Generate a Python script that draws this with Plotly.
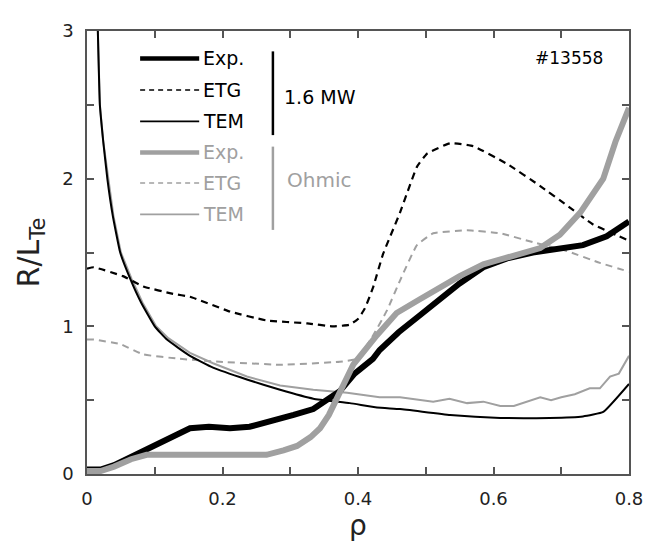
import plotly.graph_objects as go

# ---- data ----
exp_hi_x = [0.0, 0.02, 0.04, 0.063, 0.09, 0.12, 0.152, 0.18, 0.211, 0.24, 0.275, 0.305, 0.334, 0.355, 0.373, 0.395, 0.422, 0.432, 0.46, 0.49, 0.511, 0.55, 0.585, 0.62, 0.658, 0.70, 0.732, 0.767, 0.8]
exp_hi_y = [0.03, 0.03, 0.06, 0.11, 0.17, 0.24, 0.31, 0.32, 0.31, 0.32, 0.36, 0.40, 0.44, 0.50, 0.56, 0.68, 0.78, 0.84, 0.96, 1.07, 1.15, 1.29, 1.40, 1.46, 1.50, 1.53, 1.55, 1.61, 1.71]

etg_hi_x = [0.0, 0.01, 0.053, 0.083, 0.127, 0.152, 0.211, 0.265, 0.325, 0.363, 0.387, 0.400, 0.410, 0.422, 0.437, 0.462, 0.487, 0.502, 0.536, 0.570, 0.62, 0.669, 0.708, 0.747, 0.8]
etg_hi_y = [1.39, 1.40, 1.34, 1.27, 1.22, 1.20, 1.10, 1.04, 1.02, 1.00, 1.01, 1.05, 1.12, 1.26, 1.49, 1.77, 2.08, 2.17, 2.24, 2.22, 2.10, 1.95, 1.82, 1.69, 1.58]

tem_hi_x = [0.016, 0.019, 0.024, 0.030, 0.038, 0.049, 0.064, 0.08, 0.10, 0.118, 0.152, 0.186, 0.236, 0.285, 0.334, 0.388, 0.428, 0.462, 0.536, 0.61, 0.683, 0.732, 0.762, 0.8]
tem_hi_y = [3.0, 2.5, 2.25, 2.0, 1.75, 1.5, 1.32, 1.16, 1.0, 0.91, 0.80, 0.72, 0.64, 0.57, 0.51, 0.48, 0.45, 0.44, 0.40, 0.38, 0.38, 0.39, 0.42, 0.61]

exp_oh_x = [0.0, 0.02, 0.04, 0.065, 0.088, 0.12, 0.17, 0.22, 0.265, 0.29, 0.31, 0.33, 0.344, 0.357, 0.369, 0.393, 0.428, 0.457, 0.49, 0.511, 0.55, 0.585, 0.63, 0.669, 0.698, 0.728, 0.762, 0.78, 0.8]
exp_oh_y = [0.02, 0.02, 0.05, 0.10, 0.13, 0.13, 0.13, 0.13, 0.13, 0.16, 0.19, 0.25, 0.31, 0.40, 0.51, 0.74, 0.94, 1.09, 1.18, 1.24, 1.34, 1.42, 1.48, 1.53, 1.62, 1.77, 2.00, 2.25, 2.48]

etg_oh_x = [0.0, 0.01, 0.049, 0.083, 0.137, 0.196, 0.285, 0.373, 0.398, 0.42, 0.443, 0.462, 0.487, 0.511, 0.561, 0.61, 0.658, 0.708, 0.757, 0.8]
etg_oh_y = [0.91, 0.91, 0.88, 0.81, 0.78, 0.76, 0.74, 0.76, 0.78, 0.92, 1.11, 1.31, 1.55, 1.63, 1.65, 1.63, 1.57, 1.51, 1.43, 1.37]

tem_oh_x = [0.016, 0.019, 0.024, 0.031, 0.039, 0.050, 0.066, 0.082, 0.102, 0.12, 0.152, 0.186, 0.236, 0.285, 0.334, 0.384, 0.432, 0.462, 0.49, 0.511, 0.535, 0.561, 0.585, 0.61, 0.63, 0.643, 0.669, 0.685, 0.70, 0.72, 0.742, 0.757, 0.772, 0.785, 0.8]
tem_oh_y = [3.0, 2.5, 2.25, 2.0, 1.75, 1.5, 1.32, 1.16, 1.0, 0.92, 0.82, 0.75, 0.66, 0.60, 0.57, 0.55, 0.52, 0.52, 0.50, 0.49, 0.51, 0.48, 0.49, 0.46, 0.46, 0.48, 0.52, 0.50, 0.52, 0.54, 0.58, 0.58, 0.66, 0.68, 0.80]

x_tickvals = [0, 0.1, 0.2, 0.3, 0.4, 0.5, 0.6, 0.7, 0.8]
x_ticktext = ["0", " ", "0.2", " ", "0.4", " ", "0.6", " ", "0.8"]
y_tickvals = [0, 0.5, 1, 1.5, 2, 2.5, 3]
y_ticktext = ["0", " ", "1", " ", "2", " ", "3"]

BLACK = "#000000"
GRAY = "#a0a0a0"
FONT = "DejaVu Sans, Arial, sans-serif"

fig = go.Figure()

def add(x, y, color, width, dash="solid", shape="linear"):
    fig.add_trace(go.Scatter(x=x, y=y, mode="lines",
                             line=dict(color=color, width=width, dash=dash, shape=shape, smoothing=0.35),
                             showlegend=False, hoverinfo="skip"))

add(tem_oh_x, tem_oh_y, GRAY, 2)
add(etg_oh_x, etg_oh_y, GRAY, 2, "7px,5px", "spline")
add(tem_hi_x, tem_hi_y, BLACK, 2, "solid", "spline")
add(etg_hi_x, etg_hi_y, BLACK, 2.2, "7px,5px", "spline")
add(exp_hi_x, exp_hi_y, BLACK, 6)
add(exp_oh_x, exp_oh_y, GRAY, 6)

# ---- hand-drawn legend (paper coordinates) ----
legend_items = [
    ("Exp.", BLACK, 4.5, "solid", 0.938),
    ("ETG", BLACK, 1.5, "dash", 0.867),
    ("TEM", BLACK, 1.8, "solid", 0.796),
    ("Exp.", GRAY, 4.5, "solid", 0.726),
    ("ETG", GRAY, 1.5, "dash", 0.657),
    ("TEM", GRAY, 1.8, "solid", 0.586),
]
shapes = []
annotations = []
for label, col, w, d, yp in legend_items:
    shapes.append(dict(type="line", xref="paper", yref="paper", x0=0.098, x1=0.207,
                       y0=yp, y1=yp, line=dict(color=col, width=w,
                                               dash="5px,4px" if d == "dash" else "solid")))
    annotations.append(dict(xref="paper", yref="paper", x=0.210, y=yp, text=label,
                            showarrow=False, xanchor="left", yanchor="middle",
                            font=dict(family=FONT, size=19, color=col)))
shapes.append(dict(type="line", xref="paper", yref="paper", x0=0.343, x1=0.343,
                   y0=0.765, y1=0.954, line=dict(color=BLACK, width=2.5)))
shapes.append(dict(type="line", xref="paper", yref="paper", x0=0.343, x1=0.343,
                   y0=0.551, y1=0.739, line=dict(color=GRAY, width=2.5)))
annotations.append(dict(xref="paper", yref="paper", x=0.36, y=0.852, text="1.6 MW",
                        showarrow=False, xanchor="left", yanchor="middle",
                        font=dict(family=FONT, size=19, color=BLACK)))
annotations.append(dict(xref="paper", yref="paper", x=0.366, y=0.664, text="Ohmic",
                        showarrow=False, xanchor="left", yanchor="middle",
                        font=dict(family=FONT, size=20, color=GRAY)))
annotations.append(dict(xref="paper", yref="paper", x=0.955, y=0.938, text="#13558",
                        showarrow=False, xanchor="right", yanchor="middle",
                        font=dict(family=FONT, size=17, color=BLACK)))

axis_common = dict(showline=True, linecolor="#555555", linewidth=1.5, mirror="ticks",
                   ticks="inside", ticklen=7, tickwidth=1.5, tickcolor="#555555",
                   showgrid=False, zeroline=False, ticklabelstandoff=8,
                   tickfont=dict(family=FONT, size=18, color="#222222"))

# page body adds ~8px offset; margins compensate so the plot frame lands on the reference frame
fig.update_layout(
    width=655, height=545,
    margin=dict(l=79, r=34, t=14, b=79),
    plot_bgcolor="white", paper_bgcolor="white",
    shapes=shapes, annotations=annotations,
    xaxis=dict(range=[0, 0.8], tickvals=x_tickvals, ticktext=x_ticktext,
               title=dict(text="ρ", font=dict(family=FONT, size=28, color="#222222"), standoff=0),
               **axis_common),
    yaxis=dict(range=[0, 3], tickvals=y_tickvals, ticktext=y_ticktext,
               title=dict(text="R/L<sub>Te</sub>", font=dict(family=FONT, size=30, color="#222222"), standoff=14),
               **axis_common),
)

fig.write_html("out.html")
